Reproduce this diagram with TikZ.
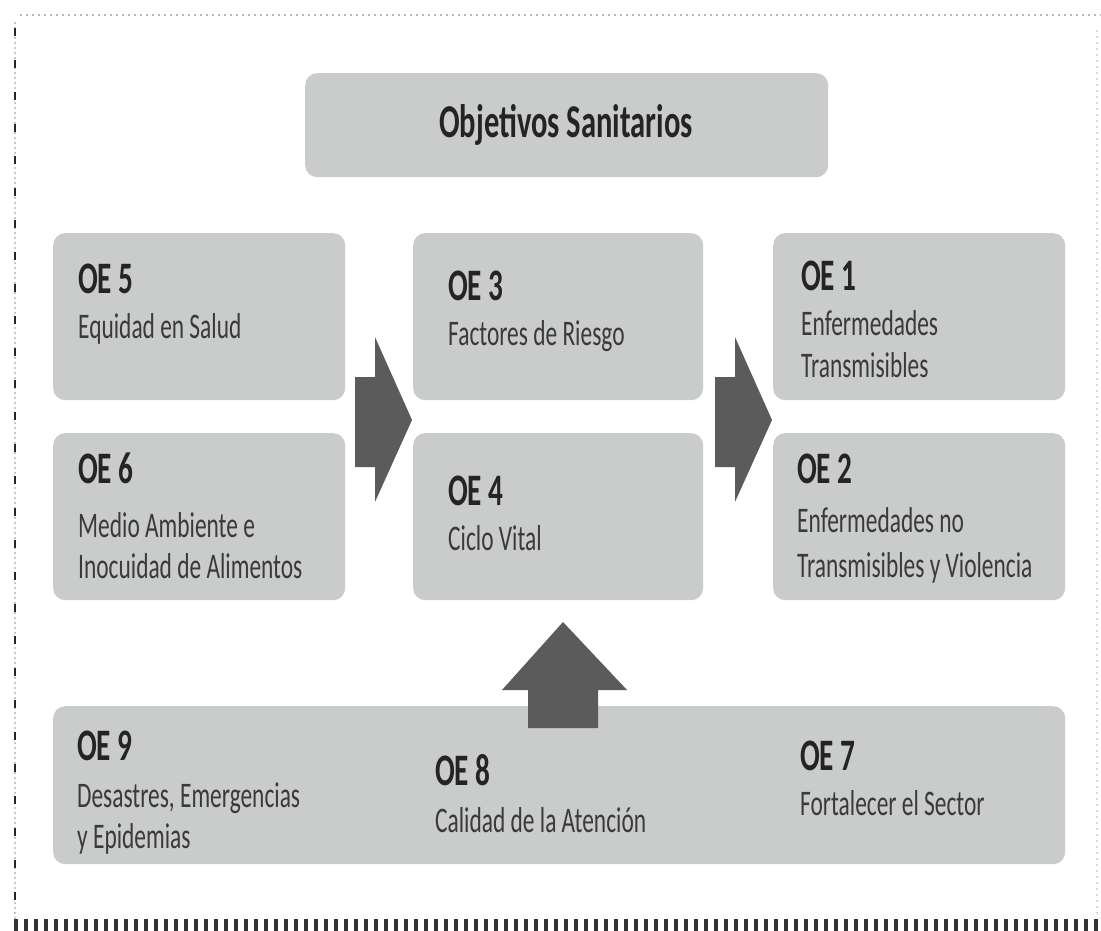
\documentclass[tikz,border=0pt]{standalone}
\usepackage{fontspec}
\setmainfont[FakeStretch=0.65]{Carlito}
\definecolor{boxgray}{HTML}{CACBCB}
\definecolor{arrowgray}{HTML}{5B5B5B}
\definecolor{titleink}{HTML}{242424}
\definecolor{bodyink}{HTML}{3A3A3A}
\tikzset{
  panel/.style={fill=boxgray, draw=none, rounded corners=12pt, anchor=north west, inner sep=0pt},
  oehead/.style={anchor=base west, inner sep=0pt, text=titleink, font=\fontsize{45}{50}\selectfont\bfseries},
  oebody/.style={anchor=base west, inner sep=0pt, text=bodyink, font=\fontsize{36}{40}\selectfont},
  blockarrow/.style={fill=arrowgray, draw=none}
}
\begin{document}
\begin{tikzpicture}[x=1pt,y=-1pt]
\useasboundingbox (0,0) rectangle (1101,931);

% frame
\draw[gray!55, line width=2pt, dash pattern=on 2pt off 4pt] (20,15) -- (1101,15);
\draw[gray!30, line width=1.5pt, dash pattern=on 2pt off 4pt] (1097,30) -- (1097,915);
\draw[gray!45, line width=1.5pt, dash pattern=on 2pt off 3pt] (15,22) -- (15,920);
\draw[black!85, line width=2.5pt, dash pattern=on 8pt off 24pt] (15,28) -- (15,925);
\draw[black!80, line width=12pt, dash pattern=on 4pt off 6pt] (14,925) -- (1101,925);

% panels
\node[panel, minimum width=523pt, minimum height=104pt] (top) at (305,73) {};
\node[panel, minimum width=292pt, minimum height=167pt] (p5) at (53,233) {};
\node[panel, minimum width=292pt, minimum height=167pt] (p6) at (53,433) {};
\node[panel, minimum width=290pt, minimum height=167pt] (p3) at (413,233) {};
\node[panel, minimum width=290pt, minimum height=167pt] (p4) at (413,433) {};
\node[panel, minimum width=292pt, minimum height=167pt] (p1) at (773,233) {};
\node[panel, minimum width=292pt, minimum height=167pt] (p2) at (773,433) {};
\node[panel, minimum width=1012pt, minimum height=158pt] (pb) at (53,706) {};

% block arrows
\fill[blockarrow] (355,377) -- (375,377) -- (375,337) -- (412,420) -- (375,502) -- (375,467) -- (355,467) -- cycle;
\fill[blockarrow] (715,377) -- (735,377) -- (735,337) -- (772,420) -- (735,502) -- (735,467) -- (715,467) -- cycle;
\fill[blockarrow] (528,728) -- (528,690) -- (502,690) -- (563,622) -- (627,690) -- (598,690) -- (598,728) -- cycle;

% texts
\node[anchor=base, inner sep=0pt, text=titleink, font=\fontsize{47}{52}\selectfont\bfseries] (ttl) at (566,138) {Objetivos Sanitarios};

\node[oehead] (h5) at (78,293) {OE 5};
\node[oebody] (b5) at (78,338) {Equidad en Salud};

\node[oehead] (h6) at (78,483) {OE 6};
\node[oebody] (b6a) at (78,537) {Medio Ambiente e};
\node[oebody] (b6b) at (78,578) {Inocuidad de Alimentos};

\node[oehead] (h3) at (448,300) {OE 3};
\node[oebody] (b3) at (448,345) {Factores de Riesgo};

\node[oehead] (h4) at (448,505) {OE 4};
\node[oebody] (b4) at (448,550) {Ciclo Vital};

\node[oehead] (h1) at (801,290) {OE 1};
\node[oebody] (b1a) at (801,335) {Enfermedades};
\node[oebody] (b1b) at (801,377) {Transmisibles};

\node[oehead] (h2) at (797,483) {OE 2};
\node[oebody] (b2a) at (797,532) {Enfermedades no};
\node[oebody] (b2b) at (797,577) {Transmisibles y Violencia};

\node[oehead] (h9) at (77,760) {OE 9};
\node[oebody] (b9a) at (77,807) {Desastres, Emergencias};
\node[oebody] (b9b) at (77,848) {y Epidemias};

\node[oehead] (h8) at (435,785) {OE 8};
\node[oebody] (b8) at (435,832) {Calidad de la Atención};

\node[oehead] (h7) at (800,770) {OE 7};
\node[oebody] (b7) at (800,815) {Fortalecer el Sector};
\end{tikzpicture}
\end{document}
